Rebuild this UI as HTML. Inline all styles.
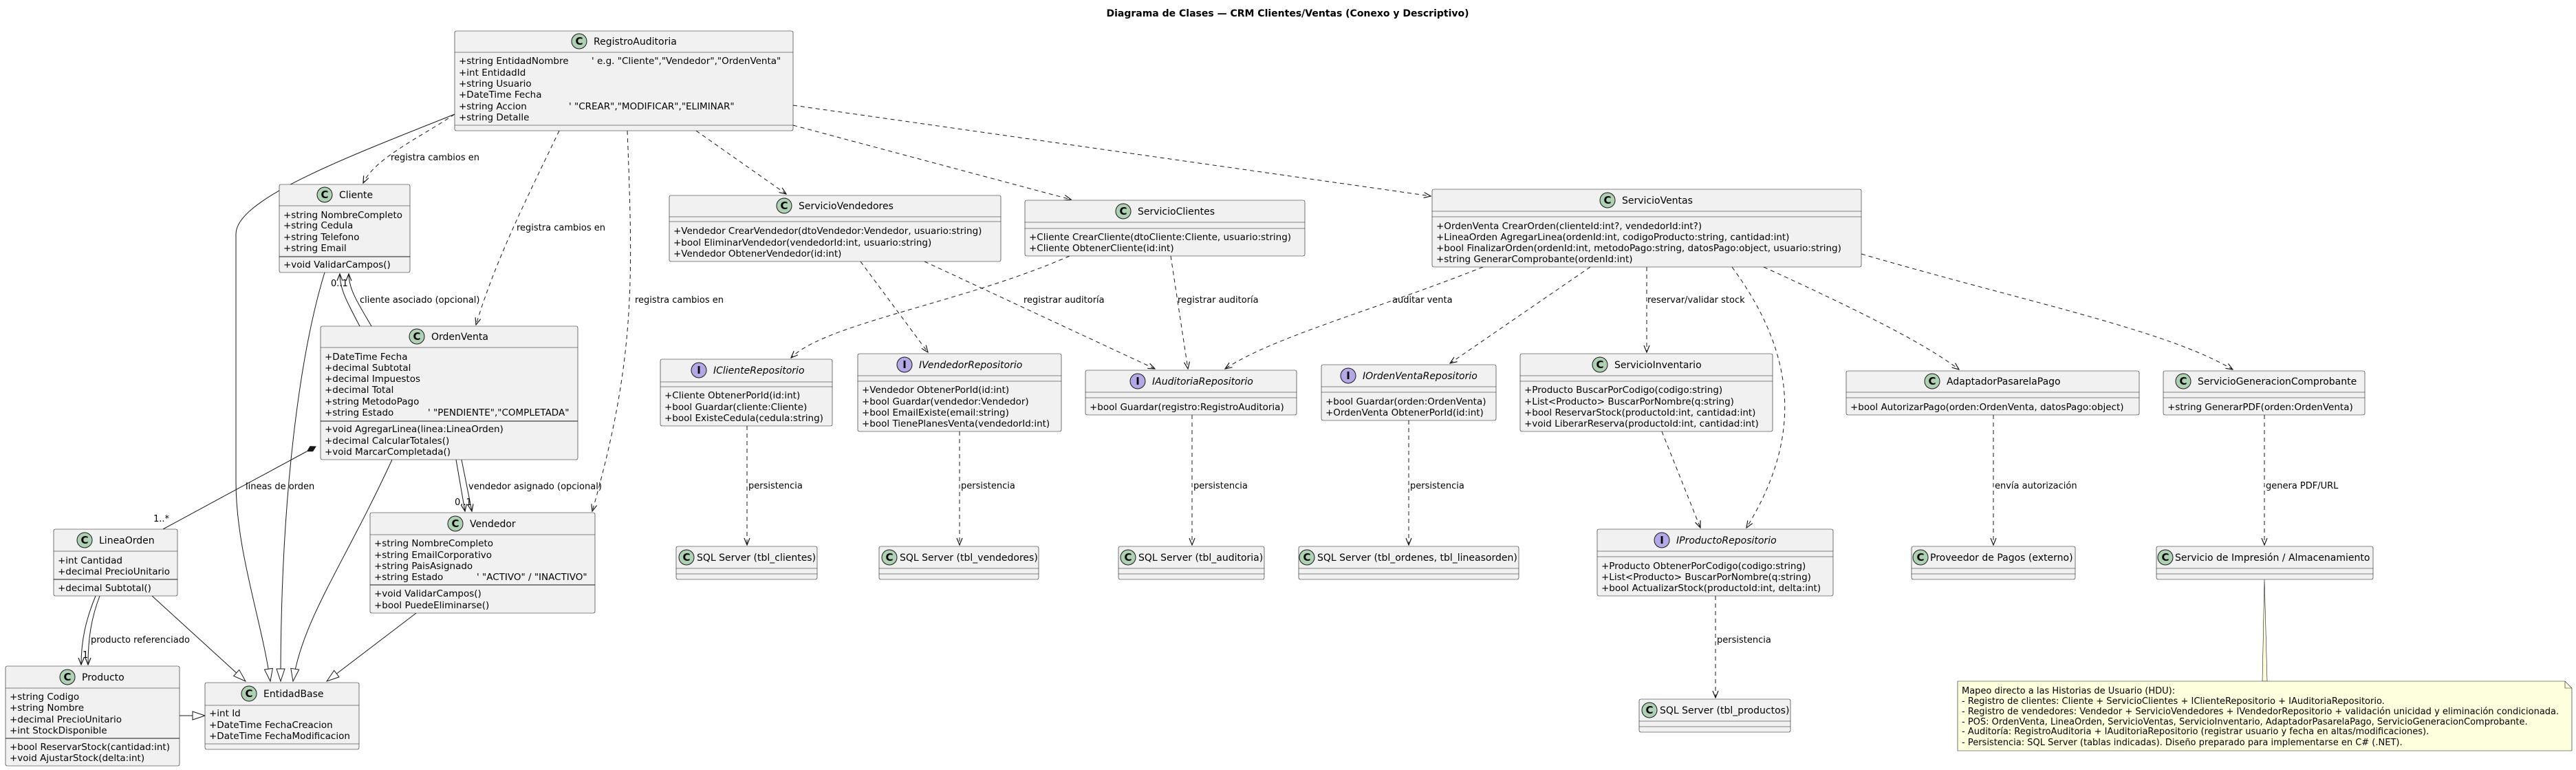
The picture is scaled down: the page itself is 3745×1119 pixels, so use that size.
<!DOCTYPE html>
<html><head><meta charset="utf-8"><style>
html,body{margin:0;padding:0;background:#fff;}
svg{display:block;font-family:"DejaVu Sans","Liberation Sans",sans-serif;}
.b{fill:#F1F1F1;stroke:#181818;stroke-width:0.6;}
.s{stroke:#181818;stroke-width:0.6;}
.t{font-size:13.5px;fill:#000;}
.n{font-size:14px;fill:#000;}
.i{font-size:14px;fill:#000;font-style:italic;}
.l{font-size:13px;fill:#000;}
.ic{fill:#ADD1B2;stroke:#181818;stroke-width:1;}
.ii{fill:#B4A7E5;stroke:#181818;stroke-width:1;}
.il{font-size:15px;font-weight:bold;fill:#000;}
.d{fill:none;stroke:#181818;stroke-width:1;stroke-dasharray:6,5;}
.p{fill:none;stroke:#181818;stroke-width:1;}
</style></head><body>
<svg width="3745" height="1119" viewBox="0 0 3745 1119" xmlns="http://www.w3.org/2000/svg">
<defs>
<marker id="a" viewBox="0 0 12 10" refX="11" refY="5" markerWidth="12" markerHeight="10" orient="auto" markerUnits="userSpaceOnUse"><path d="M1,1 L11,5 L1,9" fill="none" stroke="#181818" stroke-width="1.2"/></marker>
<marker id="tr" viewBox="0 0 20 14" refX="19" refY="7" markerWidth="20" markerHeight="14" orient="auto" markerUnits="userSpaceOnUse"><path d="M1,1 L19,7 L1,13 Z" fill="#fff" stroke="#181818" stroke-width="1"/></marker>
</defs>

<text x="1872" y="24" text-anchor="middle" style="font-size:14px;font-weight:bold">Diagrama de Clases — CRM Clientes/Ventas (Conexo y Descriptivo)</text>

<!-- connectors -->
<path class="d" d="M661,166 C610,200 545,230 528,266" marker-end="url(#a)"/>
<path class="p" d="M661,166 C500,230 343,290 343,340 L343,700 C343,800 380,900 393,990" marker-end="url(#tr)"/>
<path class="d" d="M813,190 C760,300 720,380 692,472" marker-end="url(#a)"/>
<path class="d" d="M912,190 C920,400 925,520 861,743" marker-end="url(#a)"/>
<path class="d" d="M1012,190 L1143,282" marker-end="url(#a)"/>
<path class="d" d="M1153,182 L1557,290" marker-end="url(#a)"/>
<path class="d" d="M1153,153 L2080,285" marker-end="url(#a)"/>
<path class="p" d="M472,396 C440,500 408,700 408,990" marker-end="url(#tr)"/>
<path class="p" d="M570,668 C500,820 440,900 426,990" marker-end="url(#tr)"/>
<path class="p" d="M221,866 L357,990" marker-end="url(#tr)"/>
<path class="p" d="M605,891 L475,990" marker-end="url(#tr)"/>
<path class="p" d="M261,1040 L298,1040" marker-end="url(#tr)"/>
<path class="p" d="M523,474 C505,440 494,420 494,398" marker-end="url(#a)"/>
<path class="p" d="M540,474 C520,440 507,420 507,398" marker-end="url(#a)"/>
<path class="p" d="M663,668 L676,743" marker-end="url(#a)"/>
<path class="p" d="M671,668 L686,743" marker-end="url(#a)"/>
<path class="p" d="M446,656 L237,769"/>
<polygon points="459,649 454.7,655.8 446.7,655.7 450.9,648.8" fill="#181818" stroke="#181818"/>
<path class="p" d="M139,866 C125,900 118,930 118,966" marker-end="url(#a)"/>
<path class="p" d="M145,866 C132,900 128,930 128,966" marker-end="url(#a)"/>

<path class="d" d="M1251,380 L1349,512" marker-end="url(#a)"/>
<path class="d" d="M1344,380 L1679,536" marker-end="url(#a)"/>
<path class="d" d="M1555,372 C1400,440 1200,470 1150,520" marker-end="url(#a)"/>
<path class="d" d="M1702,372 L1727,536" marker-end="url(#a)"/>
<path class="d" d="M2156,388 C2000,450 1850,490 1781,536" marker-end="url(#a)"/>
<path class="d" d="M2312,388 L2108,528" marker-end="url(#a)"/>
<path class="d" d="M2394,388 L2394,512" marker-end="url(#a)"/>
<path class="d" d="M2518,388 C2600,500 2630,620 2539,767" marker-end="url(#a)"/>
<path class="d" d="M2416,627 L2472,767" marker-end="url(#a)"/>
<path class="d" d="M2564,388 C2700,450 2800,500 2848,537" marker-end="url(#a)"/>
<path class="d" d="M2706,369 C2950,440 3150,480 3246,537" marker-end="url(#a)"/>
<path class="d" d="M1086,619 L1086,792" marker-end="url(#a)"/>
<path class="d" d="M1395,627 L1395,792" marker-end="url(#a)"/>
<path class="d" d="M1733,603 L1733,792" marker-end="url(#a)"/>
<path class="d" d="M2048,611 L2048,792" marker-end="url(#a)"/>
<path class="d" d="M2494,866 L2494,1014" marker-end="url(#a)"/>
<path class="d" d="M2898,603 L2898,792" marker-end="url(#a)"/>
<path class="d" d="M3292,603 L3292,792" marker-end="url(#a)"/>
<path d="M3292,842 L3289,990 L3296,990 Z" fill="#FEFFDD" stroke="#181818" stroke-width="0.6"/>

<!-- labels -->
<g class="l">
<text x="568" y="233">registra cambios en</text>
<text x="751" y="335">registra cambios en</text>
<text x="923" y="440">registra cambios en</text>
<text x="523" y="440">cliente asociado (opcional)</text>
<text x="481" y="416">0..1</text>
<text x="357" y="711">lineas de orden</text>
<text x="223" y="758">1..*</text>
<text x="681" y="711">vendedor asignado (opcional)</text>
<text x="661" y="734">0..1</text>
<text x="132" y="934">producto referenciado</text>
<text x="120" y="956">1</text>
<text x="1488" y="440">registrar auditoría</text>
<text x="1712" y="440">registrar auditoría</text>
<text x="2024" y="440">auditar venta</text>
<text x="2395" y="440">reservar/validar stock</text>
<text x="1088" y="710">persistencia</text>
<text x="1397" y="710">persistencia</text>
<text x="1735" y="710">persistencia</text>
<text x="2050" y="710">persistencia</text>
<text x="2496" y="934">persistencia</text>
<text x="2900" y="710">envía autorización</text>
<text x="3294" y="710">genera PDF/URL</text>
</g>

<!-- RegistroAuditoria -->
<rect class="b" x="661" y="45" width="492" height="145" rx="2.5"/>
<line class="s" x1="661" y1="76" x2="1153" y2="76"/><line class="s" x1="661" y1="182" x2="1153" y2="182"/>
<circle class="ic" cx="842" cy="60" r="11"/><text class="il" x="842" y="65" text-anchor="middle">C</text>
<text class="n" x="863" y="65">RegistroAuditoria</text>
<g class="t"><text x="667" y="93">+string EntidadNombre</text><text x="860" y="93">' e.g. "Cliente","Vendedor","OrdenVenta"</text>
<text x="667" y="110">+int EntidadId</text><text x="667" y="126">+string Usuario</text><text x="667" y="142">+DateTime Fecha</text>
<text x="667" y="159">+string Accion</text><text x="827" y="159">' "CREAR","MODIFICAR","ELIMINAR"</text>
<text x="667" y="175">+string Detalle</text></g>

<!-- Cliente -->
<rect class="b" x="406" y="268" width="190" height="128" rx="2.5"/>
<line class="s" x1="406" y1="299" x2="596" y2="299"/><line class="p" x1="406" y1="373" x2="596" y2="373"/>
<circle class="ic" cx="472" cy="283" r="11"/><text class="il" x="472" y="288" text-anchor="middle">C</text>
<text class="n" x="493" y="288">Cliente</text>
<g class="t"><text x="412" y="317">+string NombreCompleto</text><text x="412" y="332">+string Cedula</text><text x="412" y="349">+string Telefono</text><text x="412" y="365">+string Email</text><text x="412" y="389">+void ValidarCampos()</text></g>

<!-- OrdenVenta -->
<rect class="b" x="466" y="474" width="374" height="194" rx="2.5"/>
<line class="s" x1="466" y1="505" x2="840" y2="505"/><line class="p" x1="466" y1="612" x2="840" y2="612"/>
<circle class="ic" cx="606" cy="489" r="11"/><text class="il" x="606" y="494" text-anchor="middle">C</text>
<text class="n" x="627" y="494">OrdenVenta</text>
<g class="t"><text x="472" y="523">+DateTime Fecha</text><text x="472" y="539">+decimal Subtotal</text><text x="472" y="555">+decimal Impuestos</text><text x="472" y="571">+decimal Total</text><text x="472" y="588">+string MetodoPago</text><text x="472" y="604">+string Estado</text><text x="622" y="604">' "PENDIENTE","COMPLETADA"</text>
<text x="472" y="628">+void AgregarLinea(linea:LineaOrden)</text><text x="472" y="645">+decimal CalcularTotales()</text><text x="472" y="661">+void MarcarCompletada()</text></g>

<!-- LineaOrden -->
<rect class="b" x="78" y="769" width="180" height="97" rx="2.5"/>
<line class="s" x1="78" y1="801" x2="258" y2="801"/><line class="p" x1="78" y1="842" x2="258" y2="842"/>
<circle class="ic" cx="123" cy="785" r="11"/><text class="il" x="123" y="790" text-anchor="middle">C</text>
<text class="n" x="144" y="790">LineaOrden</text>
<g class="t"><text x="84" y="819">+int Cantidad</text><text x="84" y="835">+decimal PrecioUnitario</text><text x="84" y="859">+decimal Subtotal()</text></g>

<!-- Producto -->
<rect class="b" x="8" y="968" width="253" height="145" rx="2.5"/>
<line class="s" x1="8" y1="1000" x2="261" y2="1000"/><line class="p" x1="8" y1="1073" x2="261" y2="1073"/>
<circle class="ic" cx="98" cy="984" r="11"/><text class="il" x="98" y="989" text-anchor="middle">C</text>
<text class="n" x="119" y="989">Producto</text>
<g class="t"><text x="14" y="1017">+string Codigo</text><text x="14" y="1033">+string Nombre</text><text x="14" y="1050">+decimal PrecioUnitario</text><text x="14" y="1066">+int StockDisponible</text><text x="14" y="1090">+bool ReservarStock(cantidad:int)</text><text x="14" y="1106">+void AjustarStock(delta:int)</text></g>

<!-- EntidadBase -->
<rect class="b" x="298" y="992" width="224" height="97" rx="2.5"/>
<line class="s" x1="298" y1="1025" x2="522" y2="1025"/><line class="s" x1="298" y1="1081" x2="522" y2="1081"/>
<circle class="ic" cx="362" cy="1008" r="11"/><text class="il" x="362" y="1013" text-anchor="middle">C</text>
<text class="n" x="383" y="1013">EntidadBase</text>
<g class="t"><text x="304" y="1041">+int Id</text><text x="304" y="1058">+DateTime FechaCreacion</text><text x="304" y="1074">+DateTime FechaModificacion</text></g>

<!-- Vendedor -->
<rect class="b" x="538" y="745" width="327" height="146" rx="2.5"/>
<line class="s" x1="538" y1="777" x2="865" y2="777"/><line class="p" x1="538" y1="850" x2="865" y2="850"/>
<circle class="ic" cx="662" cy="761" r="11"/><text class="il" x="662" y="766" text-anchor="middle">C</text>
<text class="n" x="683" y="766">Vendedor</text>
<g class="t"><text x="544" y="794">+string NombreCompleto</text><text x="544" y="811">+string EmailCorporativo</text><text x="544" y="827">+string PaisAsignado</text><text x="544" y="843">+string Estado</text><text x="693" y="843">' "ACTIVO" / "INACTIVO"</text><text x="544" y="867">+void ValidarCampos()</text><text x="544" y="884">+bool PuedeEliminarse()</text></g>

<!-- ServicioVendedores -->
<rect class="b" x="973" y="284" width="482" height="96" rx="2.5"/>
<line class="s" x1="973" y1="315" x2="1455" y2="315"/><line class="s" x1="973" y1="322" x2="1455" y2="322"/>
<circle class="ic" cx="1140" cy="299" r="11"/><text class="il" x="1140" y="304" text-anchor="middle">C</text>
<text class="n" x="1161" y="304">ServicioVendedores</text>
<g class="t"><text x="979" y="340">+Vendedor CrearVendedor(dtoVendedor:Vendedor, usuario:string)</text><text x="979" y="357">+bool EliminarVendedor(vendedorId:int, usuario:string)</text><text x="979" y="373">+Vendedor ObtenerVendedor(id:int)</text></g>

<!-- ServicioClientes -->
<rect class="b" x="1490" y="291" width="407" height="81" rx="2.5"/>
<line class="s" x1="1490" y1="323" x2="1897" y2="323"/><line class="s" x1="1490" y1="332" x2="1897" y2="332"/>
<circle class="ic" cx="1633" cy="307" r="11"/><text class="il" x="1633" y="312" text-anchor="middle">C</text>
<text class="n" x="1654" y="312">ServicioClientes</text>
<g class="t"><text x="1496" y="349">+Cliente CrearCliente(dtoCliente:Cliente, usuario:string)</text><text x="1496" y="365">+Cliente ObtenerCliente(id:int)</text></g>

<!-- IClienteRepositorio -->
<rect class="b" x="960" y="522" width="250" height="97" rx="2.5"/>
<line class="s" x1="960" y1="555" x2="1210" y2="555"/><line class="s" x1="960" y1="562" x2="1210" y2="562"/>
<circle class="ii" cx="1016" cy="538" r="11"/><text class="il" x="1016" y="543" text-anchor="middle">I</text>
<text class="i" x="1037" y="543">IClienteRepositorio</text>
<g class="t"><text x="966" y="579">+Cliente ObtenerPorId(id:int)</text><text x="966" y="596">+bool Guardar(cliente:Cliente)</text><text x="966" y="612">+bool ExisteCedula(cedula:string)</text></g>

<!-- IVendedorRepositorio -->
<rect class="b" x="1247" y="514" width="296" height="113" rx="2.5"/>
<line class="s" x1="1247" y1="546" x2="1543" y2="546"/><line class="s" x1="1247" y1="554" x2="1543" y2="554"/>
<circle class="ii" cx="1315" cy="530" r="11"/><text class="il" x="1315" y="535" text-anchor="middle">I</text>
<text class="i" x="1336" y="535">IVendedorRepositorio</text>
<g class="t"><text x="1253" y="571">+Vendedor ObtenerPorId(id:int)</text><text x="1253" y="588">+bool Guardar(vendedor:Vendedor)</text><text x="1253" y="604">+bool EmailExiste(email:string)</text><text x="1253" y="620">+bool TienePlanesVenta(vendedorId:int)</text></g>

<!-- IAuditoriaRepositorio -->
<rect class="b" x="1578" y="538" width="307" height="65" rx="2.5"/>
<line class="s" x1="1578" y1="570" x2="1885" y2="570"/><line class="s" x1="1578" y1="578" x2="1885" y2="578"/>
<circle class="ii" cx="1654" cy="554" r="11"/><text class="il" x="1654" y="559" text-anchor="middle">I</text>
<text class="i" x="1675" y="559">IAuditoriaRepositorio</text>
<text class="t" x="1584" y="596">+bool Guardar(registro:RegistroAuditoria)</text>

<!-- IOrdenVentaRepositorio -->
<rect class="b" x="1921" y="530" width="254" height="81" rx="2.5"/>
<line class="s" x1="1921" y1="562" x2="2175" y2="562"/><line class="s" x1="1921" y1="570" x2="2175" y2="570"/>
<circle class="ii" cx="1960" cy="546" r="11"/><text class="il" x="1960" y="551" text-anchor="middle">I</text>
<text class="i" x="1981" y="551">IOrdenVentaRepositorio</text>
<g class="t"><text x="1927" y="588">+bool Guardar(orden:OrdenVenta)</text><text x="1927" y="604">+OrdenVenta ObtenerPorId(id:int)</text></g>

<!-- ServicioVentas -->
<rect class="b" x="2082" y="275" width="624" height="113" rx="2.5"/>
<line class="s" x1="2082" y1="307" x2="2706" y2="307"/><line class="s" x1="2082" y1="315" x2="2706" y2="315"/>
<circle class="ic" cx="2337" cy="291" r="11"/><text class="il" x="2337" y="296" text-anchor="middle">C</text>
<text class="n" x="2358" y="296">ServicioVentas</text>
<g class="t"><text x="2088" y="333">+OrdenVenta CrearOrden(clienteId:int?, vendedorId:int?)</text><text x="2088" y="349">+LineaOrden AgregarLinea(ordenId:int, codigoProducto:string, cantidad:int)</text><text x="2088" y="365">+bool FinalizarOrden(ordenId:int, metodoPago:string, datosPago:object, usuario:string)</text><text x="2088" y="381">+string GenerarComprobante(ordenId:int)</text></g>

<!-- ServicioInventario -->
<rect class="b" x="2210" y="514" width="367" height="113" rx="2.5"/>
<line class="s" x1="2210" y1="546" x2="2577" y2="546"/><line class="s" x1="2210" y1="554" x2="2577" y2="554"/>
<circle class="ic" cx="2326" cy="530" r="11"/><text class="il" x="2326" y="535" text-anchor="middle">C</text>
<text class="n" x="2347" y="535">ServicioInventario</text>
<g class="t"><text x="2216" y="571">+Producto BuscarPorCodigo(codigo:string)</text><text x="2216" y="588">+List&lt;Producto&gt; BuscarPorNombre(q:string)</text><text x="2216" y="604">+bool ReservarStock(productoId:int, cantidad:int)</text><text x="2216" y="620">+void LiberarReserva(productoId:int, cantidad:int)</text></g>

<!-- AdaptadorPasarelaPago -->
<rect class="b" x="2684" y="539" width="426" height="64" rx="2.5"/>
<line class="s" x1="2684" y1="570" x2="3110" y2="570"/><line class="s" x1="2684" y1="578" x2="3110" y2="578"/>
<circle class="ic" cx="2809" cy="554" r="11"/><text class="il" x="2809" y="559" text-anchor="middle">C</text>
<text class="n" x="2830" y="559">AdaptadorPasarelaPago</text>
<text class="t" x="2690" y="596">+bool AutorizarPago(orden:OrdenVenta, datosPago:object)</text>

<!-- ServicioGeneracionComprobante -->
<rect class="b" x="3145" y="539" width="293" height="64" rx="2.5"/>
<line class="s" x1="3145" y1="570" x2="3438" y2="570"/><line class="s" x1="3145" y1="578" x2="3438" y2="578"/>
<circle class="ic" cx="3174" cy="554" r="11"/><text class="il" x="3174" y="559" text-anchor="middle">C</text>
<text class="n" x="3195" y="559">ServicioGeneracionComprobante</text>
<text class="t" x="3151" y="596">+string GenerarPDF(orden:OrdenVenta)</text>

<!-- IProductoRepositorio -->
<rect class="b" x="2322" y="769" width="343" height="97" rx="2.5"/>
<line class="s" x1="2322" y1="801" x2="2665" y2="801"/><line class="s" x1="2322" y1="809" x2="2665" y2="809"/>
<circle class="ii" cx="2416" cy="785" r="11"/><text class="il" x="2416" y="790" text-anchor="middle">I</text>
<text class="i" x="2437" y="790">IProductoRepositorio</text>
<g class="t"><text x="2328" y="827">+Producto ObtenerPorCodigo(codigo:string)</text><text x="2328" y="843">+List&lt;Producto&gt; BuscarPorNombre(q:string)</text><text x="2328" y="859">+bool ActualizarStock(productoId:int, delta:int)</text></g>

<!-- simple boxes -->
<g>
<rect class="b" x="983" y="794" width="205" height="48" rx="2.5"/><line class="s" x1="983" y1="826" x2="1188" y2="826"/><line class="s" x1="983" y1="834" x2="1188" y2="834"/>
<circle class="ic" cx="998" cy="810" r="11"/><text class="il" x="998" y="815" text-anchor="middle">C</text><text class="n" x="1013" y="815">SQL Server (tbl_clientes)</text>

<rect class="b" x="1278" y="794" width="232" height="48" rx="2.5"/><line class="s" x1="1278" y1="826" x2="1510" y2="826"/><line class="s" x1="1278" y1="834" x2="1510" y2="834"/>
<circle class="ic" cx="1293" cy="810" r="11"/><text class="il" x="1293" y="815" text-anchor="middle">C</text><text class="n" x="1308" y="815">SQL Server (tbl_vendedores)</text>

<rect class="b" x="1626" y="794" width="212" height="48" rx="2.5"/><line class="s" x1="1626" y1="826" x2="1838" y2="826"/><line class="s" x1="1626" y1="834" x2="1838" y2="834"/>
<circle class="ic" cx="1640" cy="810" r="11"/><text class="il" x="1640" y="815" text-anchor="middle">C</text><text class="n" x="1655" y="815">SQL Server (tbl_auditoria)</text>

<rect class="b" x="1888" y="794" width="320" height="48" rx="2.5"/><line class="s" x1="1888" y1="826" x2="2208" y2="826"/><line class="s" x1="1888" y1="834" x2="2208" y2="834"/>
<circle class="ic" cx="1900" cy="810" r="11"/><text class="il" x="1900" y="815" text-anchor="middle">C</text><text class="n" x="1915" y="815">SQL Server (tbl_ordenes, tbl_lineasorden)</text>

<rect class="b" x="2383" y="1016" width="220" height="48" rx="2.5"/><line class="s" x1="2383" y1="1048" x2="2603" y2="1048"/><line class="s" x1="2383" y1="1056" x2="2603" y2="1056"/>
<circle class="ic" cx="2398" cy="1032" r="11"/><text class="il" x="2398" y="1037" text-anchor="middle">C</text><text class="n" x="2413" y="1037">SQL Server (tbl_productos)</text>

<rect class="b" x="2779" y="794" width="238" height="48" rx="2.5"/><line class="s" x1="2779" y1="826" x2="3017" y2="826"/><line class="s" x1="2779" y1="834" x2="3017" y2="834"/>
<circle class="ic" cx="2792" cy="810" r="11"/><text class="il" x="2792" y="815" text-anchor="middle">C</text><text class="n" x="2806" y="815">Proveedor de Pagos (externo)</text>

<rect class="b" x="3135" y="794" width="315" height="48" rx="2.5"/><line class="s" x1="3135" y1="826" x2="3450" y2="826"/><line class="s" x1="3135" y1="834" x2="3450" y2="834"/>
<circle class="ic" cx="3148" cy="810" r="11"/><text class="il" x="3148" y="815" text-anchor="middle">C</text><text class="n" x="3162" y="815">Servicio de Impresión / Almacenamiento</text>
</g>

<!-- note -->
<path d="M2846,990 L3729,990 L3739,1000 L3739,1091 L2846,1091 Z" fill="#FEFFDD" stroke="#181818" stroke-width="0.6"/>
<path d="M3729,990 L3729,1000 L3739,1000" fill="none" stroke="#181818" stroke-width="0.6"/>
<g style="font-size:13px">
<text x="2852" y="1008">Mapeo directo a las Historias de Usuario (HDU):</text>
<text x="2852" y="1023">- Registro de clientes: Cliente + ServicioClientes + IClienteRepositorio + IAuditoriaRepositorio.</text>
<text x="2852" y="1038">- Registro de vendedores: Vendedor + ServicioVendedores + IVendedorRepositorio + validación unicidad y eliminación condicionada.</text>
<text x="2852" y="1053">- POS: OrdenVenta, LineaOrden, ServicioVentas, ServicioInventario, AdaptadorPasarelaPago, ServicioGeneracionComprobante.</text>
<text x="2852" y="1067">- Auditoría: RegistroAuditoria + IAuditoriaRepositorio (registrar usuario y fecha en altas/modificaciones).</text>
<text x="2852" y="1083">- Persistencia: SQL Server (tablas indicadas). Diseño preparado para implementarse en C# (.NET).</text>
</g>
</svg>
</body></html>
